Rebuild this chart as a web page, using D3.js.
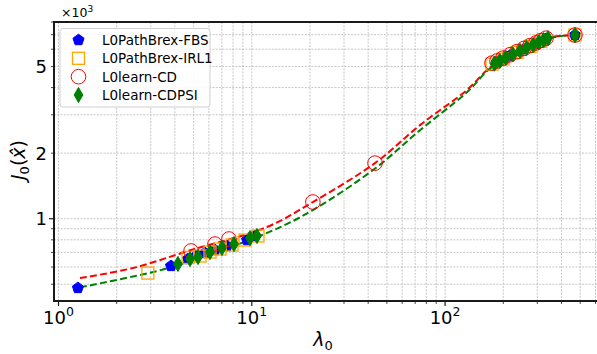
<!DOCTYPE html>
<html><head><meta charset="utf-8">
<script src="https://cdn.jsdelivr.net/npm/d3@7"></script>
<style>
html,body{margin:0;padding:0;background:#fff;}
svg{display:block;font-family:"DejaVu Sans",sans-serif;}
</style></head>
<body><svg id="chart" width="597" height="354"></svg>
<script>
// ---- data (J in units of 10^3) ----
const fbsLambda = [1.26, 3.82, 4.68, 5.14, 5.73, 6.45, 7.44, 9.45, 10.39, 185.6, 216.7, 256, 295.3, 332.7, 470];
const fbsJ      = [0.481, 0.607, 0.653, 0.674, 0.696, 0.718, 0.749, 0.798, 0.833, 5.25, 5.61, 6.00, 6.36, 6.69, 6.97];

const irlLambda = [2.90, 4.68, 5.40, 6.08, 6.85, 7.90, 9.22, 10.77, 174.8, 199.3, 235.5, 274.9, 313.4, 470];
const irlJ      = [0.563, 0.664, 0.674, 0.703, 0.726, 0.757, 0.798, 0.833, 5.13, 5.41, 5.80, 6.18, 6.53, 6.97];

const cdLambda = [4.85, 6.45, 7.62, 20.7, 43.4, 174.8, 185.6, 199.3, 216.7, 235.5, 256, 274.9, 295.3, 313.4, 332.7, 470];
const cdJ      = [0.711, 0.765, 0.807, 1.193, 1.80, 5.18, 5.30, 5.46, 5.66, 5.85, 6.05, 6.23, 6.41, 6.58, 6.74, 6.97];

const psiLambda = [4.15, 4.79, 5.27, 6.08, 7.01, 8.09, 9.79, 10.64, 180, 192, 206, 224, 244, 264, 285, 305, 323, 341, 470];
const psiJ      = [0.620, 0.653, 0.667, 0.703, 0.734, 0.765, 0.815, 0.833, 5.15, 5.30, 5.48, 5.68, 5.89, 6.08, 6.27, 6.45, 6.60, 6.74, 6.97];

const cdPathLambda = [1.292, 2.43, 4.85, 11.98, 20.7, 43.4, 74.2, 129.8, 174.8, 244, 340.6, 470];
const cdPathJ      = [0.534, 0.594, 0.718, 0.916, 1.193, 1.80, 2.69, 3.90, 5.02, 5.76, 6.75, 6.97];

const psiPathLambda = [1.292, 2.43, 3.77, 12.42, 20.7, 43.4, 74.2, 129.8, 174.8, 244, 340.6, 470];
const psiPathJ      = [0.484, 0.543, 0.597, 0.872, 1.096, 1.70, 2.55, 3.81, 4.97, 5.73, 6.71, 6.97];

const xTickExps = [0, 1, 2];
const yTickLabels = [1, 2, 5];
const legendLabels = ["L0PathBrex-FBS", "L0PathBrex-IRL1", "L0learn-CD", "L0learn-CDPSI"];

// ---- layout ----
const L = 54, T = 22, R = 600, B = 301;
const svg = d3.select("#chart");
const x = d3.scaleLog().domain([0.948, 633]).range([L, R]);
const y = d3.scaleLog().domain([0.419, 8.0]).range([B, T]);

svg.append("defs").append("clipPath").attr("id","clip")
  .append("rect").attr("x",L).attr("y",T).attr("width",R-L).attr("height",B-T);

// grid
const xGrid = [];
for (let e = -1; e <= 3; e++) for (let m = 1; m <= 9; m++) { const v = m*Math.pow(10,e); if (v>=0.948 && v<=633) xGrid.push(v); }
const yGrid = [];
for (let e = -1; e <= 1; e++) for (let m = 1; m <= 9; m++) { const v = m*Math.pow(10,e); if (v>=0.419 && v<=8.0) yGrid.push(v); }
const grid = svg.append("g");
grid.selectAll("line.gx").data(xGrid).join("line")
  .attr("x1",d=>x(d)).attr("x2",d=>x(d)).attr("y1",T).attr("y2",B)
  .attr("stroke","#b8b8b8").attr("stroke-width",0.8).attr("stroke-dasharray","2,1.3");
grid.selectAll("line.gy").data(yGrid).join("line")
  .attr("y1",d=>y(d)).attr("y2",d=>y(d)).attr("x1",L).attr("x2",R)
  .attr("stroke","#b8b8b8").attr("stroke-width",0.8).attr("stroke-dasharray","2,1.3");

const plot = svg.append("g").attr("clip-path","url(#clip)");

// dashed paths
const line = d3.line().curve(d3.curveCatmullRom.alpha(0.5));
function path(lams, js, color) {
  plot.append("path").attr("d", line(lams.map((l,i)=>[x(l), y(js[i])])))
    .attr("fill","none").attr("stroke",color).attr("stroke-width",2).attr("stroke-dasharray","7,3.2");
}
path(cdPathLambda, cdPathJ, "#ff0000");
path(psiPathLambda, psiPathJ, "#008000");

// marker shapes
function pentagon(r){ const p=[]; for(let i=0;i<5;i++){const a=-Math.PI/2+i*2*Math.PI/5; p.push([r*Math.cos(a), r*Math.sin(a)]);} return "M"+p.map(q=>q.join(",")).join("L")+"Z"; }
const shapes = {
  fbs: g => g.append("path").attr("d", pentagon(5.8)).attr("fill","#0000ff").attr("stroke","#0000ff").attr("stroke-width",1),
  irl: g => g.append("rect").attr("x",-6).attr("y",-6).attr("width",12).attr("height",12).attr("fill","none").attr("stroke","#ffa500").attr("stroke-width",1.3),
  cd:  g => g.append("circle").attr("r",7.3).attr("fill","none").attr("stroke","#ff0000").attr("stroke-width",1),
  psi: g => g.append("path").attr("d","M0,-7.6L4.3,0L0,7.6L-4.3,0Z").attr("fill","#008000").attr("stroke","#008000").attr("stroke-width",1)
};
function scatter(lams, js, key){
  const g = plot.append("g");
  lams.forEach((l,i)=>{ const m = g.append("g").attr("transform",`translate(${x(l)},${y(js[i])})`); shapes[key](m); });
}
scatter(fbsLambda, fbsJ, "fbs");
scatter(irlLambda, irlJ, "irl");
scatter(cdLambda, cdJ, "cd");
scatter(psiLambda, psiJ, "psi");

// spines
const sp = svg.append("g").attr("stroke","#1a1a1a").attr("stroke-width",2);
sp.append("line").attr("x1",L).attr("x2",L).attr("y1",T-1).attr("y2",B+1);
sp.append("line").attr("x1",L-1).attr("x2",R).attr("y1",T).attr("y2",T);
sp.append("line").attr("x1",L-1).attr("x2",R).attr("y1",B).attr("y2",B);

// ticks
const tk = svg.append("g").attr("stroke","#1a1a1a");
xGrid.forEach(v=>{
  const major = xTickExps.some(e=>Math.abs(v-Math.pow(10,e))<1e-9);
  tk.append("line").attr("x1",x(v)).attr("x2",x(v)).attr("y1",B).attr("y2",B+(major?5:3)).attr("stroke-width",major?1.2:0.8);
});
yGrid.forEach(v=>{
  const major = Math.abs(v-1)<1e-9;
  tk.append("line").attr("y1",y(v)).attr("y2",y(v)).attr("x1",L).attr("x2",L-(major?5:3)).attr("stroke-width",major?1.2:0.8);
});

// tick labels
xTickExps.forEach(e=>{
  const t = svg.append("text").attr("x",x(Math.pow(10,e))).attr("y",324).attr("text-anchor","middle")
    .attr("font-size",18).attr("fill","#000");
  t.append("tspan").text("10");
  t.append("tspan").attr("dy",-8).attr("font-size",12.5).text(e);
});
yTickLabels.forEach(v=>{
  svg.append("text").attr("x",47).attr("y",y(v)+6.5).attr("text-anchor","end")
    .attr("font-size",18).attr("fill","#000").text(v);
});
// multiplier
const mult = svg.append("text").attr("x",61).attr("y",17).attr("font-size",12.5).attr("fill","#000");
mult.append("tspan").text("\u00d710");
mult.append("tspan").attr("dy",-5).attr("font-size",9).text("3");

// axis labels
const xl = svg.append("text").attr("x",323).attr("y",346).attr("text-anchor","middle").attr("font-size",19).attr("fill","#000");
xl.append("tspan").attr("font-style","italic").text("\u03bb");
xl.append("tspan").attr("dy",4).attr("font-size",13).text("0");

const yl = svg.append("text").attr("transform","translate(25,160) rotate(-90)").attr("text-anchor","middle").attr("font-size",19).attr("fill","#000");
yl.append("tspan").attr("font-style","italic").text("J");
yl.append("tspan").attr("dy",4).attr("font-size",13).text("0");
yl.append("tspan").attr("dy",-4).text("(");
yl.append("tspan").attr("font-style","italic").text("x\u0302");
yl.append("tspan").text(")");

// legend
const lg = svg.append("g");
lg.append("rect").attr("x",60).attr("y",28.5).attr("width",150).attr("height",78.5).attr("rx",3)
  .attr("fill","#fff").attr("fill-opacity",0.85).attr("stroke","#d0d0d0").attr("stroke-width",1);
const keys = ["fbs","irl","cd","psi"];
const rowY = [40, 58.3, 76.7, 95];
legendLabels.forEach((lab,i)=>{
  const m = lg.append("g").attr("transform",`translate(78.5,${rowY[i]})`);
  shapes[keys[i]](m);
  lg.append("text").attr("x",102).attr("y",rowY[i]+4.8).attr("font-size",13.5).attr("fill","#000").text(lab);
});
</script></body></html>
